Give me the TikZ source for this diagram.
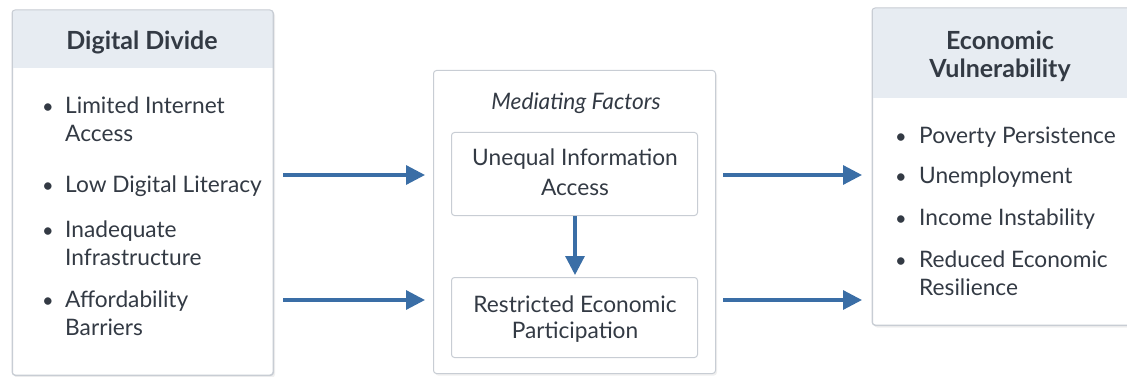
\documentclass[tikz,border=0pt]{standalone}
\usepackage{fontspec}
\setmainfont{Lato}
\usetikzlibrary{arrows.meta,shadows}
\definecolor{ink}{HTML}{333A44}
\definecolor{frame}{HTML}{C8CDD4}
\definecolor{band}{HTML}{E7ECF2}
\definecolor{flow}{HTML}{3A6EA6}
\begin{document}
\begin{tikzpicture}[x=1pt,y=-1pt,
  panel/.style={draw=frame, line width=1pt, fill=white, rounded corners=3pt,
    anchor=north west, inner sep=0pt,
    drop shadow={opacity=0.12, shadow xshift=1.5pt, shadow yshift=-2pt}},
  inbox/.style={draw=frame, line width=1pt, fill=white, rounded corners=3pt,
    anchor=north west, inner sep=0pt},
  head/.style={font=\fontsize{25}{29}\selectfont\bfseries, text=ink, anchor=base, inner sep=0pt},
  line/.style={font=\fontsize{22.7}{28}\selectfont, text=ink, anchor=base west, inner sep=0pt},
  mid/.style={font=\fontsize{22.7}{28}\selectfont, text=ink, anchor=base, inner sep=0pt},
  dot/.style={font=\fontsize{20}{26}\selectfont, text=ink, anchor=base, inner sep=0pt},
  flowarrow/.style={draw=flow, line width=3.2pt,
    -{Triangle[length=19pt,width=19pt]}},
]
\useasboundingbox (0,0) rectangle (1127,377);

% ---------- Digital Divide panel ----------
\node[panel, minimum width=261pt, minimum height=365pt] (dd) at (12,10) {};
\fill[band] (12.5,10.5) rectangle (272.5,68);
\draw[frame, line width=1pt, rounded corners=3pt] (12,10) rectangle (273,375);
\node[head] (ddt) at (142,50) {Digital Divide};
\node[dot] (b1) at (48,114) {\textbullet};
\node[line] (l1a) at (65,114) {Limited Internet};
\node[line] (l1b) at (65,142) {Access};
\node[dot] (b2) at (48,192) {\textbullet};
\node[line] (l2a) at (65,192) {Low Digital Literacy};
\node[dot] (b3) at (48,237) {\textbullet};
\node[line] (l3a) at (65,237) {Inadequate};
\node[line] (l3b) at (65,265) {Infrastructure};
\node[dot] (b4) at (48,307) {\textbullet};
\node[line] (l4a) at (65,307) {Affordability};
\node[line] (l4b) at (65,335) {Barriers};

% ---------- Mediating Factors panel ----------
\node[panel, minimum width=282pt, minimum height=303pt] (mf) at (433,70) {};
\node[mid, font=\fontsize{22.7}{28}\selectfont\itshape] (mft) at (576,110) {Mediating Factors};
\node[inbox, minimum width=246pt, minimum height=83pt] (ua) at (451,132) {};
\node[mid] (ua1) at (575,165) {Unequal Information};
\node[mid] (ua2) at (575,195) {Access};
\node[inbox, minimum width=246pt, minimum height=80pt] (rp) at (451,277) {};
\node[mid] (rp1) at (575,312) {Restricted Economic};
\node[mid] (rp2) at (575,338) {Participation};

% ---------- Economic Vulnerability panel ----------
\node[panel, minimum width=265pt, minimum height=317pt] (ev) at (872,8) {};
\fill[band] (872.5,8.5) rectangle (1137,98);
\draw[frame, line width=1pt, rounded corners=3pt] (872,8) rectangle (1137,325);
\node[head] (evt1) at (1000,50) {Economic};
\node[head] (evt2) at (1000,78) {Vulnerability};
\node[dot] (c1) at (901,143) {\textbullet};
\node[line] (r1) at (919,143) {Poverty Persistence};
\node[dot] (c2) at (901,183) {\textbullet};
\node[line] (r2) at (919,183) {Unemployment};
\node[dot] (c3) at (901,225) {\textbullet};
\node[line] (r3) at (919,225) {Income Instability};
\node[dot] (c4) at (901,267) {\textbullet};
\node[line] (r4a) at (919,267) {Reduced Economic};
\node[line] (r4b) at (919,295) {Resilience};

% ---------- connectors ----------
\coordinate (yt) at (0,175);
\coordinate (yb) at (0,300);
\draw[flowarrow] ([xshift=9pt]dd.east |- yt) -- ([xshift=-8pt]mf.west |- yt);
\draw[flowarrow] ([xshift=9pt]dd.east |- yb) -- ([xshift=-8pt]mf.west |- yb);
\draw[flowarrow] ([xshift=7pt]mf.east |- yt) -- ([xshift=-10pt]ev.west |- yt);
\draw[flowarrow] ([xshift=7pt]mf.east |- yb) -- ([xshift=-10pt]ev.west |- yb);
\draw[flowarrow] (ua.south -| 575,0) -- ([yshift=2pt]rp.north -| 575,0);
\end{tikzpicture}
\end{document}
